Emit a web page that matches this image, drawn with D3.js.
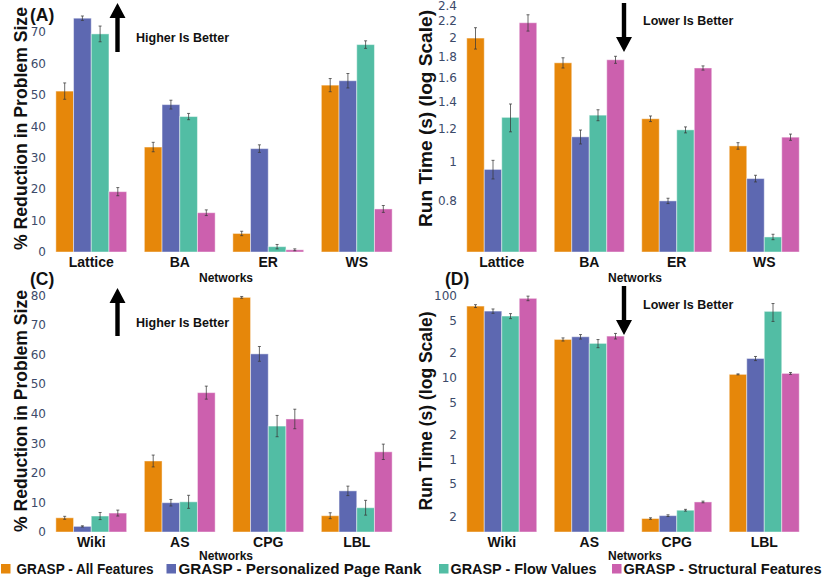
<!DOCTYPE html>
<html>
<head>
<meta charset="utf-8">
<script src="https://cdn.jsdelivr.net/npm/d3@7"></script>
<style>
  body { margin: 0; background: #fff; }
  svg { display: block; }
  text { font-family: "Liberation Sans", Arial, Helvetica, sans-serif; }
  .yaxis text { font-family: "DejaVu Sans", Verdana, sans-serif; font-size: 12px; fill: #3c4a6a; }
  .xaxis text { font-size: 14px; font-weight: bold; fill: #111; }
  .bold { font-weight: bold; fill: #111; }
</style>
</head>
<body>
<svg id="chart" width="822" height="579"></svg>
<script>
const seriesNames = ['GRASP - All Features', 'GRASP - Personalized Page Rank', 'GRASP - Flow Values', 'GRASP - Structural Features'];
const seriesColors = ['#e6870a', '#5d68b1', '#52bda4', '#cc60ae'];

const synthNetworks = ['Lattice', 'BA', 'ER', 'WS'];
const realNetworks = ['Wiki', 'AS', 'CPG', 'LBL'];

// rows = network, columns = series (same order as seriesNames)
const reductionSynth = [
  [51.2, 74.4, 69.4, 19.2],
  [33.4, 46.9, 43.1, 12.5],
  [5.9, 32.9, 1.7, 0.7],
  [53.1, 54.5, 66.0, 13.7]
];
const reductionSynthErr = [
  [2.6, 0.7, 2.5, 1.3],
  [1.5, 1.4, 1.0, 0.9],
  [0.7, 1.2, 0.7, 0.3],
  [2.1, 2.3, 1.2, 1.1]
];
const runtimeSynth = [
  [2.0, 0.955, 1.28, 2.18],
  [1.74, 1.147, 1.296, 1.77],
  [1.27, 0.8, 1.193, 1.69],
  [1.09, 0.907, 0.653, 1.145]
];
const runtimeSynthErr = [
  [0.12, 0.05, 0.1, 0.1],
  [0.05, 0.045, 0.04, 0.035],
  [0.02, 0.012, 0.02, 0.02],
  [0.02, 0.017, 0.01, 0.02]
];
const reductionReal = [
  [4.8, 1.9, 5.4, 6.4],
  [24.0, 9.9, 10.2, 47.1],
  [79.3, 60.2, 35.8, 38.2],
  [5.5, 13.9, 8.2, 27.1]
];
const reductionRealErr = [
  [0.5, 0.2, 1.2, 1.0],
  [2.0, 1.1, 2.2, 2.2],
  [0.3, 2.5, 3.6, 3.3],
  [1.0, 1.6, 2.5, 2.6]
];
const runtimeReal = [
  [75.2, 65.3, 56.8, 93.5],
  [29.4, 31.7, 26.3, 32.3],
  [0.19, 0.206, 0.24, 0.303],
  [11.0, 17.2, 64.8, 11.3]
];
const runtimeRealErr = [
  [3, 4, 4, 6],
  [1.3, 2, 3, 2.5],
  [0.004, 0.005, 0.006, 0.007],
  [0.15, 1.0, 16, 0.3]
];

const ticksA = [0, 10, 20, 30, 40, 50, 60, 70];
const ticksC = [0, 10, 20, 30, 40, 50, 60, 70, 80];
const ticksB = [0.8, 1, 1.2, 1.4, 1.6, 1.8, 2, 2.2, 2.4];
const ticksD = [100, 50, 20, 10, 5, 2, 1, 0.5, 0.2];
const labelsD = ['100', '5', '2', '10', '5', '2', '1', '5', '2'];

const svg = d3.select('#chart');

function drawPanel(p) {
  const g = svg.append('g');

  const x0 = d3.scaleBand().domain(p.cats).range(p.xRange).paddingInner(0.2).paddingOuter(0.1);
  const x1 = d3.scaleBand().domain(d3.range(seriesNames.length)).range([0, x0.bandwidth()]);
  const y = p.y;

  // y axis (labels only)
  g.append('g')
    .attr('class', 'yaxis')
    .attr('transform', `translate(${p.xRange[0]},0)`)
    .call(d3.axisLeft(y).tickValues(p.ticks).tickSize(0).tickPadding(1).tickFormat(p.fmt))
    .call(a => a.select('.domain').remove());

  // category axis
  g.append('g')
    .attr('class', 'xaxis')
    .attr('transform', `translate(0,${p.base})`)
    .call(d3.axisBottom(x0).tickSize(0).tickPadding(5))
    .call(a => a.select('.domain').remove());

  const groups = g.append('g').selectAll('g')
    .data(p.cats)
    .join('g')
    .attr('transform', d => `translate(${x0(d)},0)`);

  const rows = (c, i) => p.values[i].map((v, s) => ({ v, e: p.errs[i][s], s }));

  groups.selectAll('rect')
    .data(rows)
    .join('rect')
    .attr('x', d => x1(d.s))
    .attr('width', x1.bandwidth())
    .attr('y', d => y(d.v))
    .attr('height', d => p.base - y(d.v))
    .attr('fill', d => seriesColors[d.s])
    .attr('stroke', '#fff')
    .attr('stroke-opacity', 0.45)
    .attr('stroke-width', 1);

  const eb = groups.selectAll('g.err')
    .data(rows)
    .join('g')
    .attr('class', 'err')
    .attr('stroke', '#3a3a3a')
    .attr('stroke-opacity', 0.75)
    .attr('stroke-width', 1);
  const cx = d => x1(d.s) + x1.bandwidth() / 2;
  const lo = d => y(Math.max(d.v - d.e, 1e-6));
  eb.append('line')
    .attr('x1', cx).attr('x2', cx)
    .attr('y1', d => y(d.v + d.e)).attr('y2', lo);
  eb.append('line')
    .attr('x1', d => cx(d) - 1.5).attr('x2', d => cx(d) + 1.5)
    .attr('y1', d => y(d.v + d.e)).attr('y2', d => y(d.v + d.e));
  eb.append('line')
    .attr('x1', d => cx(d) - 1.5).attr('x2', d => cx(d) + 1.5)
    .attr('y1', lo).attr('y2', lo);

  // axis title
  g.append('text')
    .attr('class', 'bold')
    .attr('transform', `translate(${p.titleX},${p.titleY}) rotate(-90)`)
    .attr('text-anchor', 'middle')
    .attr('textLength', p.titleLen)
    .attr('lengthAdjust', 'spacingAndGlyphs')
    .style('font-size', p.titleSize + 'px')
    .text(p.title);

  g.append('text')
    .attr('class', 'bold')
    .attr('x', (p.xRange[0] + p.xRange[1]) / 2 + 2)
    .attr('y', p.netY)
    .attr('text-anchor', 'middle')
    .style('font-size', '12px')
    .text('Networks');

  g.append('text')
    .attr('class', 'bold')
    .attr('x', p.tagX)
    .attr('y', p.tagY)
    .style('font-size', '17.5px')
    .text(p.tag);

  // arrow
  const ax = p.arrow.x, hw = 8, sw = 2.2;
  let path;
  if (p.arrow.up) {
    const t = p.arrow.y0, h = t + 15, b = p.arrow.y1;
    path = `M${ax},${t} L${ax + hw},${h} L${ax + sw},${h} L${ax + sw},${b} L${ax - sw},${b} L${ax - sw},${h} L${ax - hw},${h} Z`;
  } else {
    const t = p.arrow.y0, b = p.arrow.y1, h = b - 15;
    path = `M${ax},${b} L${ax + hw},${h} L${ax + sw},${h} L${ax + sw},${t} L${ax - sw},${t} L${ax - sw},${h} L${ax - hw},${h} Z`;
  }
  g.append('path').attr('d', path).attr('fill', '#000');

  g.append('text')
    .attr('class', 'bold')
    .attr('x', p.note.x)
    .attr('y', p.note.y)
    .style('font-size', '12.5px')
    .text(p.note.text);
}

// (A)
drawPanel({
  cats: synthNetworks, values: reductionSynth, errs: reductionSynthErr,
  xRange: [47, 401], base: 252,
  y: d3.scaleLinear().domain([0, 80]).range([252, 0.6]),
  ticks: ticksA, fmt: d3.format('d'),
  title: '% Reduction in Problem Size', titleX: 27, titleY: 128.5, titleSize: 17.5, titleLen: 243,
  netY: 282, tag: '(A)', tagX: 30, tagY: 21,
  arrow: { x: 117.5, y0: 3, y1: 52, up: true },
  note: { x: 136, y: 42, text: 'Higher Is Better' }
});

// (B)
drawPanel({
  cats: synthNetworks, values: runtimeSynth, errs: runtimeSynthErr,
  xRange: [458, 808], base: 252,
  y: d3.scaleLog().domain([0.6, 2.45]).range([252, 2]),
  ticks: ticksB, fmt: d => String(d),
  title: 'Run Time (s) (log Scale)', titleX: 432, titleY: 118.5, titleSize: 19, titleLen: 217,
  netY: 282, tag: '', tagX: 0, tagY: 0,
  arrow: { x: 624, y0: 3, y1: 52, up: false },
  note: { x: 643, y: 24.5, text: 'Lower Is Better' }
});

// (C)
drawPanel({
  cats: realNetworks, values: reductionReal, errs: reductionRealErr,
  xRange: [47, 401], base: 532,
  y: d3.scaleLinear().domain([0, 80]).range([532, 295.3]),
  ticks: ticksC, fmt: d3.format('d'),
  title: '% Reduction in Problem Size', titleX: 27, titleY: 411, titleSize: 17.5, titleLen: 242,
  netY: 560, tag: '(C)', tagX: 30, tagY: 285,
  arrow: { x: 117.5, y0: 288, y1: 336, up: true },
  note: { x: 136, y: 326.5, text: 'Higher Is Better' }
});

// (D)
drawPanel({
  cats: realNetworks, values: runtimeReal, errs: runtimeRealErr,
  xRange: [458, 808], base: 532,
  y: d3.scaleLog().domain([0.13, 140]).range([532, 284]),
  ticks: ticksD, fmt: d => labelsD[ticksD.indexOf(d)],
  title: 'Run Time (s) (log Scale)', titleX: 432, titleY: 411, titleSize: 18, titleLen: 199,
  netY: 560, tag: '(D)', tagX: 445, tagY: 285,
  arrow: { x: 624, y0: 286, y1: 335, up: false },
  note: { x: 643, y: 308.5, text: 'Lower Is Better' }
});

// legend
const legendSwatchX = [1, 166.5, 439, 612];
const legendTextX = [16.5, 178.5, 450.5, 623.5];
const legendTextLen = [137, 243, 146, 198];
const legend = svg.append('g').selectAll('g')
  .data(seriesNames)
  .join('g');
legend.append('rect')
  .attr('x', (d, i) => legendSwatchX[i])
  .attr('y', 564)
  .attr('width', 9.5).attr('height', 9.5)
  .attr('fill', (d, i) => seriesColors[i]);
legend.append('text')
  .attr('class', 'bold')
  .attr('x', (d, i) => legendTextX[i])
  .attr('y', 573.5)
  .attr('textLength', (d, i) => legendTextLen[i])
  .attr('lengthAdjust', 'spacingAndGlyphs')
  .style('font-size', '14px')
  .text(d => d);
</script>
</body>
</html>
